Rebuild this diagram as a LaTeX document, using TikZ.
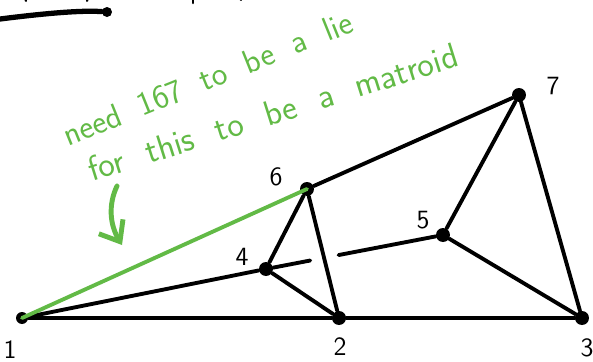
\documentclass[tikz,border=0pt]{standalone}
\usepackage{tikz}
\usetikzlibrary{arrows.meta, positioning, calc}
\definecolor{PenGreen}{RGB}{98,186,70}

\begin{document}
\begin{tikzpicture}[x=0.02cm, y=-0.02cm,
  pt/.style={circle, fill=black, inner sep=0pt, minimum size=0.28cm},
  edge/.style={line width=2.2pt, line cap=round},
  lbl/.style={font=\sffamily\fontsize{15}{18}\selectfont},
  note/.style={text=PenGreen, anchor=base west, inner sep=0pt}]
  \useasboundingbox (0,0) rectangle (593,362);

  % Leftover strokes at the top edge
  \coordinate (s0) at (0,19);
  \node[pt, minimum size=0.2cm] (s1) at (107,12) {};
  \draw[edge, line width=3pt] (s0) .. controls (40,14) and (80,10) .. (s1);
  \draw[edge, line width=1.5pt] (193,-2) -- (193,3);
  \draw[edge, line width=1.2pt] (25,-2) -- (26,1);
  \draw[edge, line width=1.2pt] (88,-2) -- (87,1);
  \draw[edge, line width=1.2pt] (240,-2) -- (241,0);

  % Points
  \node[pt, minimum size=0.24cm] (p1) at (22,318) {};
  \node[pt] (p2) at (339,318) {};
  \node[pt] (p3) at (582,318) {};
  \node[pt] (p4) at (266,269) {};
  \node[pt] (p5) at (443,235) {};
  \node[pt] (p6) at (307,189) {};
  \node[pt] (p7) at (519,95) {};

  % Labels
  \node[lbl] (l1) at (10,350) {1};
  \node[lbl] (l2) at (340,347) {2};
  \node[lbl] (l3) at (587,348) {3};
  \node[lbl] (l4) at (242,257) {4};
  \node[lbl] (l5) at (423,220) {5};
  \node[lbl] (l6) at (276,177) {6};
  \node[lbl] (l7) at (553,86) {7};

  % Lines
  \draw[edge] (p1) -- (p2) -- (p3);
  \draw[edge] (p1) -- (p4);
  \coordinate (gapL) at ($(p4)!0.25!(p5)$);
  \coordinate (gapR) at ($(p4)!0.41!(p5)$);
  \draw[edge] (p4) -- (gapL);
  \draw[edge] (gapR) -- (p5);
  \draw[edge] (p6) -- (p7);
  \draw[edge] (p6) -- (p4) -- (p2) -- (p6);
  \draw[edge] (p5) -- (p7) -- (p3) -- (p5);

  % Green note
  \draw[edge, PenGreen] (p1.center) -- (p6.center);
  \node[note, rotate=22, font=\sffamily\fontsize{19}{22}\selectfont] (n1) at (68,147)
    {\spaceskip=0.6em need 167 to be a lie};
  \node[note, rotate=17.5, font=\sffamily\fontsize{20}{24}\selectfont] (n2) at (92,182)
    {\spaceskip=0.66em for this to be a matroid};
  \coordinate (a0) at (117,186);
  \coordinate (a1) at (122,245);
  \draw[edge, line width=2.8pt, PenGreen, -{Straight Barb[length=10pt, width=16pt]}]
    (a0) .. controls (108,205) and (110,225) .. (a1);
\end{tikzpicture}
\end{document}
